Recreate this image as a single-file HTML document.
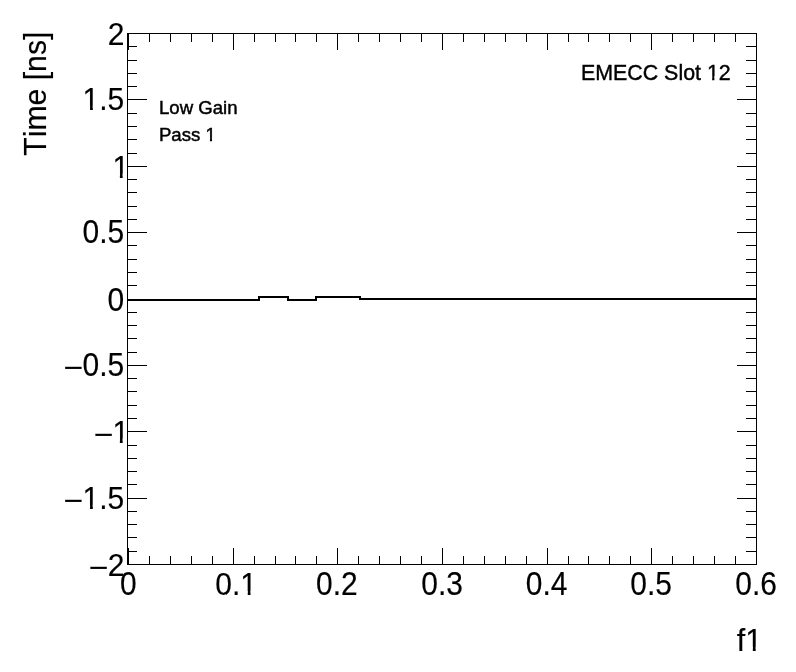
<!DOCTYPE html>
<html><head><meta charset="utf-8"><title>plot</title>
<style>
html,body{margin:0;padding:0;background:#fff;}
svg{display:block;will-change:transform;}
text{font-family:"Liberation Sans",sans-serif;fill:#000;stroke:#000;font-kerning:none;white-space:pre;}
</style></head>
<body>
<svg width="796" height="672" viewBox="0 0 796 672">
<rect x="0" y="0" width="796" height="672" fill="#fff"/>
<g>
<text transform="translate(107.83 44.8) scale(0.98 1.035)" font-size="30.6" stroke-width="0.15">2</text>
<text transform="translate(82.57 109.6) scale(0.98 1.03)" font-size="30.6" stroke-width="0.15">1.5</text>
<text transform="translate(112.41 177.6) scale(0.98 1.015)" font-size="30.6" stroke-width="0.15">1</text>
<text transform="translate(82.57 243.4) scale(0.98 1.065)" font-size="30.6" stroke-width="0.15">0.5</text>
<text transform="translate(107.49 310.6) scale(0.98 1.065)" font-size="30.6" stroke-width="0.15">0</text>
<text transform="translate(63.86 378.04) scale(1.1 1)" font-size="30.6" stroke-width="0.15">−</text>
<text transform="translate(82.57 376.4) scale(0.98 1.065)" font-size="30.6" stroke-width="0.15">0.5</text>
<text transform="translate(93.96 445.05) scale(1.1 1)" font-size="30.6" stroke-width="0.15">−</text>
<text transform="translate(112.41 442.6) scale(0.98 1.015)" font-size="30.6" stroke-width="0.15">1</text>
<text transform="translate(63.86 511.28) scale(1.1 1)" font-size="30.6" stroke-width="0.15">−</text>
<text transform="translate(82.57 508.8) scale(0.98 1.03)" font-size="30.6" stroke-width="0.15">1.5</text>
<text transform="translate(88.96 578.05) scale(1.1 1)" font-size="30.6" stroke-width="0.15">−</text>
<text transform="translate(107.83 575.6) scale(0.98 1.035)" font-size="30.6" stroke-width="0.15">2</text>
<text transform="translate(120.06 595.2) scale(0.98 1.06)" font-size="30.6" stroke-width="0.15">0</text>
<text transform="translate(215.26 595.2) scale(0.98 1.045)" font-size="30.6" stroke-width="0.15">0.1</text>
<text transform="translate(316.12 595.2) scale(0.98 1.06)" font-size="30.6" stroke-width="0.15">0.2</text>
<text transform="translate(421.23 595.2) scale(0.98 1.06)" font-size="30.6" stroke-width="0.15">0.3</text>
<text transform="translate(525.86 595.2) scale(0.98 1.06)" font-size="30.6" stroke-width="0.15">0.4</text>
<text transform="translate(630.25 595.2) scale(0.98 1.06)" font-size="30.6" stroke-width="0.15">0.5</text>
<text transform="translate(735.23 595.2) scale(0.98 1.06)" font-size="30.6" stroke-width="0.15">0.6</text>
<text transform="translate(736.7 651.15) scale(1.0 1.02)" font-size="30.6" stroke-width="0.15">f1</text>
<text transform="translate(45.7 155.76) rotate(-90) scale(1 1.04)" font-size="30.2" stroke-width="0.15">Time [ns]</text>
<text transform="translate(580.95 79.7) scale(0.995 1.06)" font-size="21.5" stroke-width="0.4">EMECC Slot 12</text>
<text transform="translate(158.97 113.9) scale(1.0 1.03)" font-size="18.6" stroke-width="0.45">Low Gain</text>
<text transform="translate(158.97 140.9) scale(1.0 1.03)" font-size="18.6" stroke-width="0.45">Pass 1</text>
</g>
<g fill="#fff">
<rect x="83.78" y="105.57" width="6.26" height="6.1"/>
<rect x="92.84" y="105.57" width="6.02" height="6.1"/>
<rect x="113.62" y="173.6" width="6.26" height="6.07"/>
<rect x="122.67" y="173.6" width="6.02" height="6.07"/>
<rect x="113.62" y="438.6" width="6.26" height="6.07"/>
<rect x="122.67" y="438.6" width="6.02" height="6.07"/>
<rect x="83.78" y="504.77" width="6.26" height="6.1"/>
<rect x="92.84" y="504.77" width="6.02" height="6.1"/>
<rect x="241.48" y="591.14" width="6.26" height="6.14"/>
<rect x="250.54" y="591.14" width="6.02" height="6.14"/>
<rect x="746.46" y="647.14" width="6.36" height="6.08"/>
<rect x="755.68" y="647.14" width="6.12" height="6.08"/>
<rect x="707.38" y="76.2" width="4.75" height="5.7"/>
<rect x="714.42" y="76.2" width="4.58" height="5.7"/>
<rect x="205.68" y="137.64" width="4.26" height="5.48"/>
<rect x="212.04" y="137.64" width="4.12" height="5.48"/>
</g>
<g fill="#000" shape-rendering="crispEdges">
<rect x="127" y="33" width="630" height="1"/>
<rect x="127" y="564" width="630" height="1"/>
<rect x="127" y="33" width="1" height="532"/>
<rect x="756" y="33" width="1" height="532"/>
<rect x="128" y="548" width="1" height="16"/>
<rect x="128" y="34" width="1" height="16"/>
<rect x="149" y="556" width="1" height="8"/>
<rect x="149" y="34" width="1" height="8"/>
<rect x="170" y="556" width="1" height="8"/>
<rect x="170" y="34" width="1" height="8"/>
<rect x="191" y="556" width="1" height="8"/>
<rect x="191" y="34" width="1" height="8"/>
<rect x="212" y="556" width="1" height="8"/>
<rect x="212" y="34" width="1" height="8"/>
<rect x="233" y="548" width="1" height="16"/>
<rect x="233" y="34" width="1" height="16"/>
<rect x="254" y="556" width="1" height="8"/>
<rect x="254" y="34" width="1" height="8"/>
<rect x="275" y="556" width="1" height="8"/>
<rect x="275" y="34" width="1" height="8"/>
<rect x="295" y="556" width="1" height="8"/>
<rect x="295" y="34" width="1" height="8"/>
<rect x="316" y="556" width="1" height="8"/>
<rect x="316" y="34" width="1" height="8"/>
<rect x="337" y="548" width="1" height="16"/>
<rect x="337" y="34" width="1" height="16"/>
<rect x="358" y="556" width="1" height="8"/>
<rect x="358" y="34" width="1" height="8"/>
<rect x="379" y="556" width="1" height="8"/>
<rect x="379" y="34" width="1" height="8"/>
<rect x="400" y="556" width="1" height="8"/>
<rect x="400" y="34" width="1" height="8"/>
<rect x="421" y="556" width="1" height="8"/>
<rect x="421" y="34" width="1" height="8"/>
<rect x="442" y="548" width="1" height="16"/>
<rect x="442" y="34" width="1" height="16"/>
<rect x="463" y="556" width="1" height="8"/>
<rect x="463" y="34" width="1" height="8"/>
<rect x="484" y="556" width="1" height="8"/>
<rect x="484" y="34" width="1" height="8"/>
<rect x="505" y="556" width="1" height="8"/>
<rect x="505" y="34" width="1" height="8"/>
<rect x="526" y="556" width="1" height="8"/>
<rect x="526" y="34" width="1" height="8"/>
<rect x="547" y="548" width="1" height="16"/>
<rect x="547" y="34" width="1" height="16"/>
<rect x="568" y="556" width="1" height="8"/>
<rect x="568" y="34" width="1" height="8"/>
<rect x="588" y="556" width="1" height="8"/>
<rect x="588" y="34" width="1" height="8"/>
<rect x="609" y="556" width="1" height="8"/>
<rect x="609" y="34" width="1" height="8"/>
<rect x="630" y="556" width="1" height="8"/>
<rect x="630" y="34" width="1" height="8"/>
<rect x="651" y="548" width="1" height="16"/>
<rect x="651" y="34" width="1" height="16"/>
<rect x="672" y="556" width="1" height="8"/>
<rect x="672" y="34" width="1" height="8"/>
<rect x="693" y="556" width="1" height="8"/>
<rect x="693" y="34" width="1" height="8"/>
<rect x="714" y="556" width="1" height="8"/>
<rect x="714" y="34" width="1" height="8"/>
<rect x="735" y="556" width="1" height="8"/>
<rect x="735" y="34" width="1" height="8"/>
<rect x="756" y="548" width="1" height="16"/>
<rect x="756" y="34" width="1" height="16"/>
<rect x="127" y="33" width="20" height="1"/>
<rect x="737" y="33" width="20" height="1"/>
<rect x="127" y="46" width="10" height="1"/>
<rect x="746" y="46" width="11" height="1"/>
<rect x="127" y="60" width="10" height="1"/>
<rect x="746" y="60" width="11" height="1"/>
<rect x="127" y="73" width="10" height="1"/>
<rect x="746" y="73" width="11" height="1"/>
<rect x="127" y="86" width="10" height="1"/>
<rect x="746" y="86" width="11" height="1"/>
<rect x="127" y="99" width="20" height="1"/>
<rect x="737" y="99" width="20" height="1"/>
<rect x="127" y="113" width="10" height="1"/>
<rect x="746" y="113" width="11" height="1"/>
<rect x="127" y="126" width="10" height="1"/>
<rect x="746" y="126" width="11" height="1"/>
<rect x="127" y="139" width="10" height="1"/>
<rect x="746" y="139" width="11" height="1"/>
<rect x="127" y="153" width="10" height="1"/>
<rect x="746" y="153" width="11" height="1"/>
<rect x="127" y="166" width="20" height="1"/>
<rect x="737" y="166" width="20" height="1"/>
<rect x="127" y="179" width="10" height="1"/>
<rect x="746" y="179" width="11" height="1"/>
<rect x="127" y="192" width="10" height="1"/>
<rect x="746" y="192" width="11" height="1"/>
<rect x="127" y="206" width="10" height="1"/>
<rect x="746" y="206" width="11" height="1"/>
<rect x="127" y="219" width="10" height="1"/>
<rect x="746" y="219" width="11" height="1"/>
<rect x="127" y="232" width="20" height="1"/>
<rect x="737" y="232" width="20" height="1"/>
<rect x="127" y="245" width="10" height="1"/>
<rect x="746" y="245" width="11" height="1"/>
<rect x="127" y="259" width="10" height="1"/>
<rect x="746" y="259" width="11" height="1"/>
<rect x="127" y="272" width="10" height="1"/>
<rect x="746" y="272" width="11" height="1"/>
<rect x="127" y="285" width="10" height="1"/>
<rect x="746" y="285" width="11" height="1"/>
<rect x="127" y="299" width="20" height="1"/>
<rect x="737" y="299" width="20" height="1"/>
<rect x="127" y="312" width="10" height="1"/>
<rect x="746" y="312" width="11" height="1"/>
<rect x="127" y="325" width="10" height="1"/>
<rect x="746" y="325" width="11" height="1"/>
<rect x="127" y="338" width="10" height="1"/>
<rect x="746" y="338" width="11" height="1"/>
<rect x="127" y="352" width="10" height="1"/>
<rect x="746" y="352" width="11" height="1"/>
<rect x="127" y="365" width="20" height="1"/>
<rect x="737" y="365" width="20" height="1"/>
<rect x="127" y="378" width="10" height="1"/>
<rect x="746" y="378" width="11" height="1"/>
<rect x="127" y="391" width="10" height="1"/>
<rect x="746" y="391" width="11" height="1"/>
<rect x="127" y="405" width="10" height="1"/>
<rect x="746" y="405" width="11" height="1"/>
<rect x="127" y="418" width="10" height="1"/>
<rect x="746" y="418" width="11" height="1"/>
<rect x="127" y="431" width="20" height="1"/>
<rect x="737" y="431" width="20" height="1"/>
<rect x="127" y="445" width="10" height="1"/>
<rect x="746" y="445" width="11" height="1"/>
<rect x="127" y="458" width="10" height="1"/>
<rect x="746" y="458" width="11" height="1"/>
<rect x="127" y="471" width="10" height="1"/>
<rect x="746" y="471" width="11" height="1"/>
<rect x="127" y="484" width="10" height="1"/>
<rect x="746" y="484" width="11" height="1"/>
<rect x="127" y="498" width="20" height="1"/>
<rect x="737" y="498" width="20" height="1"/>
<rect x="127" y="511" width="10" height="1"/>
<rect x="746" y="511" width="11" height="1"/>
<rect x="127" y="524" width="10" height="1"/>
<rect x="746" y="524" width="11" height="1"/>
<rect x="127" y="537" width="10" height="1"/>
<rect x="746" y="537" width="11" height="1"/>
<rect x="127" y="551" width="10" height="1"/>
<rect x="746" y="551" width="11" height="1"/>
<rect x="127" y="564" width="20" height="1"/>
<rect x="737" y="564" width="20" height="1"/>
</g>
<g fill="#000" shape-rendering="crispEdges">
<rect x="127" y="299" width="133" height="2"/>
<rect x="258" y="296" width="2" height="5"/>
<rect x="258" y="296" width="31" height="2"/>
<rect x="287" y="296" width="2" height="5"/>
<rect x="287" y="299" width="30" height="2"/>
<rect x="315" y="296" width="2" height="5"/>
<rect x="315" y="296" width="46" height="2"/>
<rect x="359" y="296" width="2" height="4"/>
<rect x="359" y="298" width="398" height="2"/>
</g>
</svg>
</body></html>
